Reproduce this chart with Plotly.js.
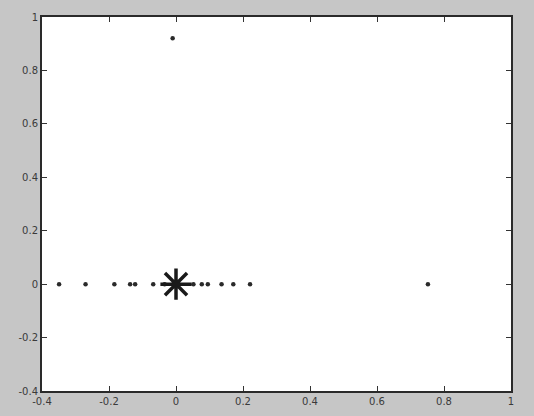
<!DOCTYPE html>
<html>
<head>
<meta charset="utf-8">
<script src="https://cdn.plot.ly/plotly-3.0.1.min.js"></script>
<style>html,body{margin:0;padding:0;background:#c6c6c6;}</style>
</head>
<body>
<div id="chart" style="width:534px;height:416px;"></div>
<script>
// Scattered points (real axis and one outlier)
const dotX = [-0.349, -0.270, -0.184, -0.137, -0.122, -0.068, -0.034, 0.052, 0.077, 0.095, 0.136, 0.171, 0.221, 0.752, -0.01];
const dotY = [0, 0, 0, 0, 0, 0, 0, 0, 0, 0, 0, 0, 0, 0, 0.92];
// Central star marker
const starX = [0];
const starY = [0];
// Ticks
const tickVals = [-0.4, -0.2, 0, 0.2, 0.4, 0.6, 0.8, 1];
const tickText = ['-0.4', '-0.2', '0', '0.2', '0.4', '0.6', '0.8', '1'];

const traces = [
  {x: dotX, y: dotY, mode: 'markers', type: 'scatter',
   marker: {symbol: 'circle', size: 4.5, color: '#2a2a2a'}, hoverinfo: 'none'},
  {x: starX, y: starY, mode: 'markers', type: 'scatter',
   marker: {symbol: 'asterisk-open', size: 26, color: '#1a1a1a', line: {color: '#1a1a1a', width: 3.5}}, hoverinfo: 'none'}
];

const axisCommon = {
  tickvals: tickVals, ticktext: tickText,
  ticks: 'inside', ticklen: 5, tickwidth: 1, tickcolor: '#333',
  showline: true, linecolor: '#2a2a2a', linewidth: 2, mirror: 'ticks',
  showgrid: false, zeroline: false,
  tickfont: {family: 'DejaVu Sans, sans-serif', size: 10, color: '#3a3a3a'}
};

const layout = {
  width: 534, height: 416,
  margin: {l: 42, r: 23, t: 17, b: 25, pad: 0},
  paper_bgcolor: '#c6c6c6', plot_bgcolor: '#ffffff',
  showlegend: false,
  xaxis: Object.assign({}, axisCommon, {range: [-0.4, 1]}),
  yaxis: Object.assign({}, axisCommon, {range: [-0.4, 1]})
};

Plotly.newPlot('chart', traces, layout, {staticPlot: true, displayModeBar: false});
</script>
</body>
</html>
